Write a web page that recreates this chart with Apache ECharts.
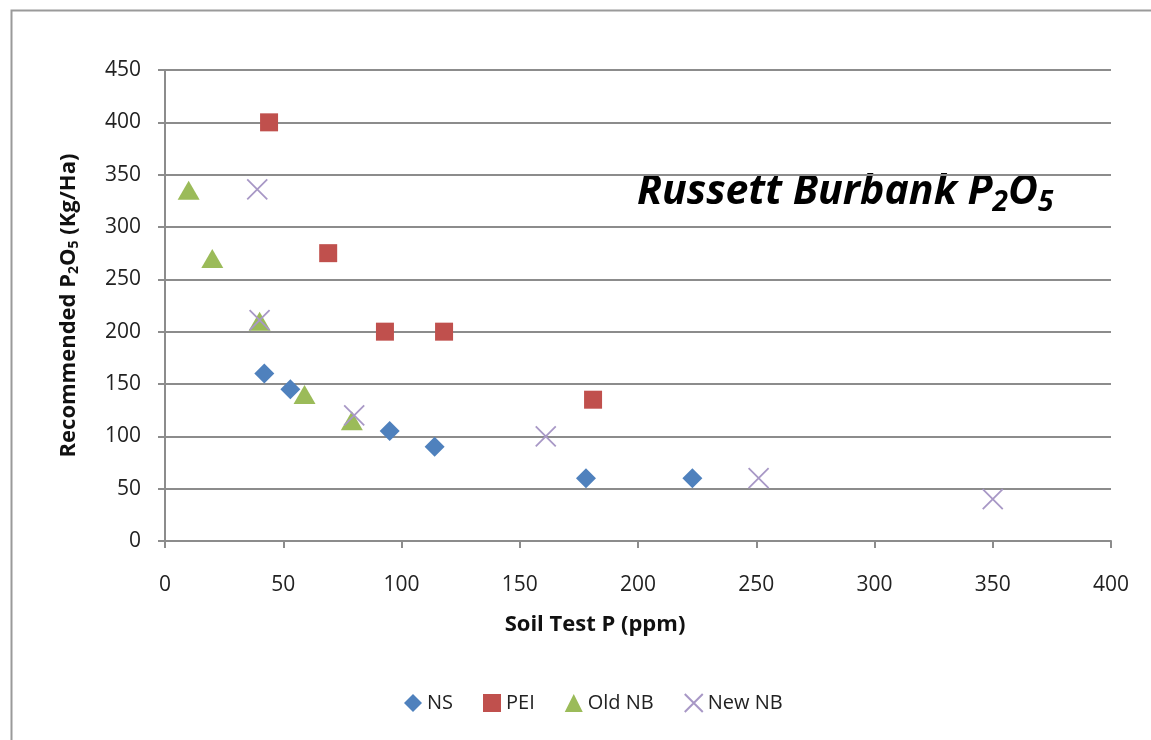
<!DOCTYPE html>
<html>
<head>
<meta charset="utf-8">
<script src="https://cdn.jsdelivr.net/npm/echarts@6/dist/echarts.min.js"></script>
<style>
  html, body { margin: 0; padding: 0; background: #fff; }
  #container { width: 1151px; height: 740px; }
</style>
</head>
<body>
<div id="container"></div>
<script>
  // values: [soil test P, recommended P2O5]
  var nsData = [[42, 160], [53, 145], [95, 105], [114, 90], [178, 60], [223, 60]];
  var peiData = [[44, 400], [69, 275], [93, 200], [118, 200], [181, 135]];
  var oldNbData = [[10, 335], [20, 270], [40, 210], [59, 140], [79, 115]];
  var newNbData = [[39, 336], [40, 211], [80, 120], [161, 100], [251, 60], [350, 40]];
  var seriesNames = ['NS', 'PEI', 'Old NB', 'New NB'];

  var font = '"Open Sans", Lato, sans-serif';
  var crossPath = 'path://M0,0L10,10M10,0L0,10';

  var dom = document.getElementById('container');
  var myChart = echarts.init(dom);
  var option = {
    animation: false,
    backgroundColor: '#fff',
    graphic: [
      {
        type: 'rect',
        left: 9, top: 8,
        shape: { width: 1170, height: 760 },
        style: { fill: 'none', stroke: '#9a9a9a', lineWidth: 2 },
        silent: true
      },
      {
        type: 'text',
        left: 637, top: 172,
        style: {
          text: '{t|Russett Burbank P}{s|2}{t|O}{s|5}',
          rich: {
            t: { fontSize: 41, fontWeight: 'bold', fontStyle: 'italic', fontFamily: font, fill: '#000' },
            s: { fontSize: 28, fontWeight: 'bold', fontStyle: 'italic', fontFamily: font, fill: '#000', padding: [22, 0, 0, 0] }
          }
        }
      }
    ],
    grid: { left: 165, right: 40, top: 70, bottom: 199 },
    legend: {
      bottom: 22,
      left: 399,
      itemGap: 30,
      itemWidth: 18,
      itemHeight: 18,
      textStyle: { fontSize: 20, fontFamily: font, color: '#222' },
      data: seriesNames
    },
    xAxis: {
      type: 'value',
      min: 0, max: 400, interval: 50,
      name: 'Soil Test P (ppm)',
      nameLocation: 'middle',
      nameGap: 73,
      nameTextStyle: { fontSize: 22, fontWeight: 'bold', fontFamily: font, color: '#111', padding: [0, 86, 0, 0] },
      axisLine: { show: true, lineStyle: { color: '#8c8c8c', width: 2 } },
      axisTick: { show: true, inside: false, length: 7, lineStyle: { color: '#8c8c8c', width: 2 } },
      axisLabel: { fontSize: 21, fontFamily: font, color: '#222', margin: 34 },
      splitLine: { show: false }
    },
    yAxis: {
      type: 'value',
      min: 0, max: 450, interval: 50,
      name: '{t|Recommended P}{s|2}{t|O}{s|5}{t| (Kg/Ha)}',
      nameLocation: 'middle',
      nameGap: 84,
      nameRotate: 90,
      nameTextStyle: {
        rich: {
          t: { fontSize: 22, fontWeight: 'bold', fontFamily: font, color: '#111' },
          s: { fontSize: 14, fontWeight: 'bold', fontFamily: font, color: '#111', padding: [10, 0, 0, 0] }
        }
      },
      axisLine: { show: true, lineStyle: { color: '#8c8c8c', width: 2 } },
      axisTick: { show: true, length: 7, lineStyle: { color: '#8c8c8c', width: 2 } },
      axisLabel: { fontSize: 21, fontFamily: font, color: '#222', margin: 24 },
      splitLine: { show: true, lineStyle: { color: '#8c8c8c', width: 2 } }
    },
    series: [
      {
        name: 'NS', type: 'scatter', symbol: 'diamond', symbolSize: 20,
        itemStyle: { color: '#4F81BD', opacity: 1 },
        data: nsData
      },
      {
        name: 'PEI', type: 'scatter', symbol: 'rect', symbolSize: 18,
        itemStyle: { color: '#C0504D', opacity: 1 },
        data: peiData
      },
      {
        name: 'Old NB', type: 'scatter', symbol: 'triangle', symbolSize: [22, 19],
        itemStyle: { color: '#9BBB59', opacity: 1 },
        data: oldNbData
      },
      {
        name: 'New NB', type: 'scatter', symbol: crossPath, symbolSize: 20,
        itemStyle: { color: 'rgba(0,0,0,0)', borderColor: '#A898C6', borderWidth: 1.8, opacity: 1 },
        data: newNbData
      }
    ]
  };
  myChart.setOption(option, true);
</script>
</body>
</html>
